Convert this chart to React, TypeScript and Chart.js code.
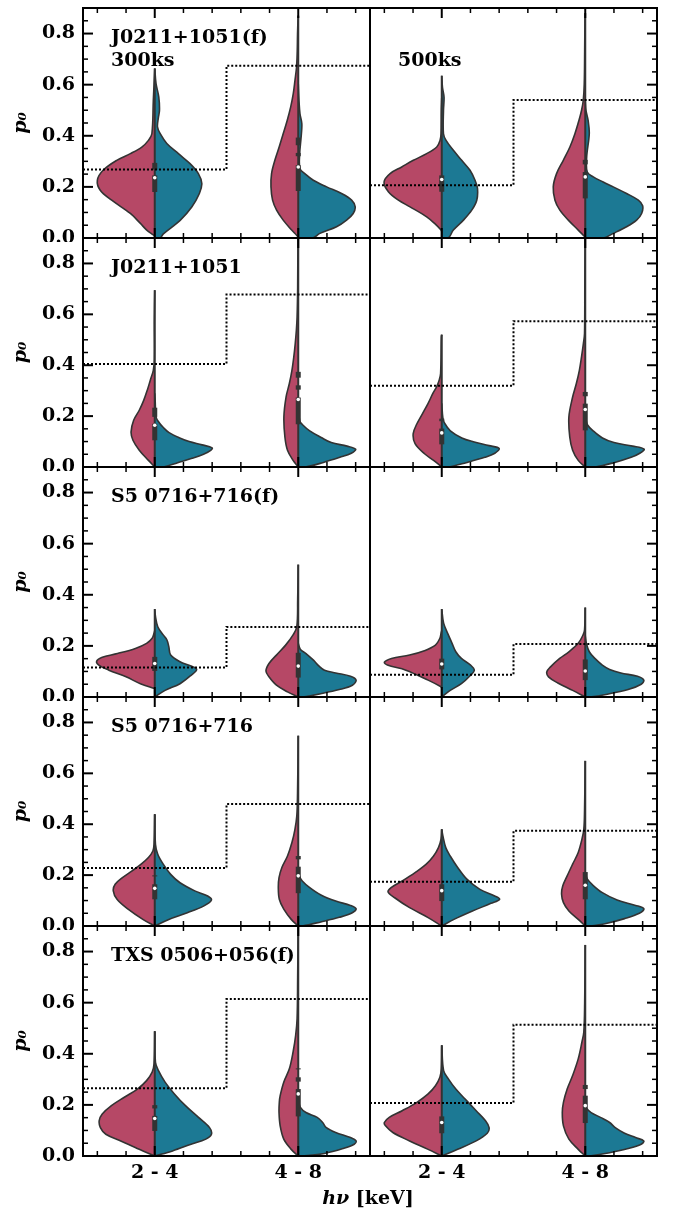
import { useEffect, useRef } from 'react';
import { Chart, registerables } from 'chart.js';

Chart.register(...registerables);

// ---------------- data ----------------
const categories = ['2 - 4', '4 - 8'];
const yTickValues = [0, 0.2, 0.4, 0.6, 0.8];
const yMinorTickValues = [0.05, 0.1, 0.15, 0.25, 0.3, 0.35, 0.45, 0.5, 0.55, 0.65, 0.7, 0.75, 0.85];
const xMajorTickValues = [0, 1];
const xMinorTickValues = [-0.4, -0.2, 0.2, 0.4, 0.6, 0.8, 1.2, 1.4];
const sourceLabels = ['J0211+1051(f)', 'J0211+1051', 'S5 0716+716(f)', 'S5 0716+716', 'TXS 0506+056(f)'];
const exposureLabels = ['300ks', '500ks'];
const yAxisTitle = 'p₀';
const xAxisTitleItalic = 'hν';
const xAxisTitleRest = ' [keV]';

// dotted threshold levels [2-4, 4-8]
const r1L_thr = [0.268, 0.674];
const r1R_thr = [0.206, 0.540];
const r2L_thr = [0.405, 0.678];
const r2R_thr = [0.319, 0.573];
const r3L_thr = [0.115, 0.274];
const r3R_thr = [0.087, 0.207];
const r4L_thr = [0.228, 0.479];
const r4R_thr = [0.174, 0.374];
const r5L_thr = [0.265, 0.614];
const r5R_thr = [0.207, 0.514];

// violin outlines: [p0 value, half width in category units]
const r1L_c0_red = [[0.008,0],[0.012,0.01],[0.031,0.056],[0.057,0.10],[0.096,0.17],[0.148,0.30],[0.187,0.38],[0.226,0.40],[0.265,0.36],[0.304,0.265],[0.330,0.17],[0.356,0.09],[0.382,0.044],[0.408,0.02],[0.538,0.01],[0.661,0]];
const r1L_c0_teal = [[0,0],[0,0.037],[0.016,0.06],[0.069,0.177],[0.121,0.258],[0.174,0.311],[0.213,0.328],[0.252,0.304],[0.291,0.246],[0.330,0.165],[0.370,0.084],[0.409,0.037],[0.435,0.019],[0.47,0.025],[0.500,0.033],[0.552,0.028],[0.604,0.009],[0.664,0]];
const r1L_c1_red = [[0.003,0],[0.01,0.01],[0.031,0.046],[0.070,0.105],[0.109,0.151],[0.148,0.179],[0.200,0.190],[0.252,0.186],[0.304,0.163],[0.356,0.133],[0.408,0.105],[0.460,0.077],[0.512,0.053],[0.564,0.035],[0.616,0.023],[0.668,0.012],[0.732,0.007],[0.797,0.005],[0.849,0.002],[0.87,0]];
const r1L_c1_teal = [[0,0],[0,0.10],[0.018,0.151],[0.044,0.267],[0.070,0.337],[0.096,0.383],[0.122,0.397],[0.148,0.372],[0.174,0.302],[0.200,0.198],[0.226,0.105],[0.252,0.046],[0.271,0.012],[0.330,0.01],[0.395,0.02],[0.447,0.025],[0.486,0.012],[0.538,0.005],[0.603,0]];
const r1L_c0_box = [[0.180,0.245],[0.268,0.294]];
const r1L_c1_box = [[0.184,0.285],[0.320,0.333],[0.363,0.393]];
const r1L_med = [0.236, 0.278];

const r1R_c0_red = [[0.025,0],[0.031,0.005],[0.057,0.05],[0.083,0.105],[0.122,0.221],[0.148,0.302],[0.181,0.372],[0.219,0.402],[0.252,0.360],[0.278,0.279],[0.304,0.198],[0.330,0.105],[0.356,0.035],[0.382,0.012],[0.408,0.005],[0.499,0.003],[0.55,0]];
const r1R_c0_teal = [[0,0],[0,0.046],[0.031,0.081],[0.070,0.151],[0.109,0.209],[0.148,0.244],[0.194,0.249],[0.226,0.232],[0.265,0.197],[0.304,0.139],[0.343,0.081],[0.382,0.030],[0.408,0.012],[0.499,0.012],[0.551,0.016],[0.590,0.005],[0.635,0]];
const r1R_c1_red = [[0.003,0],[0.031,0.049],[0.070,0.118],[0.109,0.177],[0.148,0.211],[0.200,0.223],[0.252,0.200],[0.304,0.153],[0.356,0.107],[0.408,0.072],[0.460,0.044],[0.499,0.026],[0.538,0.014],[0.603,0.007],[0.732,0.004],[0.849,0.002],[0.88,0]];
const r1R_c1_teal = [[0,0],[0,0.125],[0.018,0.195],[0.044,0.288],[0.070,0.358],[0.096,0.393],[0.126,0.400],[0.148,0.37],[0.174,0.288],[0.200,0.195],[0.219,0.125],[0.239,0.056],[0.258,0.014],[0.317,0.01],[0.408,0.028],[0.460,0.02],[0.499,0.005],[0.538,0]];
const r1R_c0_box = [[0.181,0.245]];
const r1R_c1_box = [[0.155,0.258],[0.288,0.306]];
const r1R_med = [0.229, 0.239];

const r2L_c0_red = [[0,0],[0.026,0.044],[0.066,0.108],[0.105,0.152],[0.138,0.165],[0.184,0.147],[0.223,0.108],[0.262,0.077],[0.302,0.052],[0.341,0.031],[0.380,0.010],[0.420,0.003],[0.577,0.003],[0.695,0]];
const r2L_c0_teal = [[0,0],[0,0.06],[0.017,0.16],[0.034,0.26],[0.05,0.34],[0.065,0.39],[0.075,0.40],[0.087,0.33],[0.1,0.24],[0.115,0.17],[0.135,0.10],[0.155,0.06],[0.175,0.03],[0.195,0.01],[0.26,0.003],[0.29,0]];
const r2L_c1_red = [[0,0],[0.026,0.036],[0.066,0.075],[0.118,0.093],[0.197,0.10],[0.275,0.085],[0.328,0.062],[0.380,0.044],[0.433,0.031],[0.485,0.021],[0.538,0.013],[0.590,0.008],[0.708,0.004],[0.905,0.002],[0.93,0]];
const r2L_c1_teal = [[0,0],[0,0.05],[0.017,0.17],[0.038,0.29],[0.054,0.37],[0.07,0.40],[0.082,0.34],[0.096,0.23],[0.116,0.16],[0.142,0.08],[0.166,0.03],[0.182,0.01],[0.25,0]];
const r2L_c0_box = [[0.105,0.170],[0.197,0.233]];
const r2L_c1_box = [[0.168,0.273],[0.304,0.321],[0.351,0.374]];
const r2L_med = [0.164, 0.265];

const r2R_c0_red = [[0,0],[0.026,0.057],[0.052,0.12],[0.092,0.186],[0.131,0.199],[0.170,0.173],[0.210,0.134],[0.249,0.096],[0.289,0.062],[0.315,0.036],[0.341,0.018],[0.367,0.008],[0.511,0.003],[0.52,0]];
const r2R_c0_teal = [[0,0],[0,0.05],[0.017,0.17],[0.038,0.30],[0.054,0.37],[0.073,0.40],[0.084,0.33],[0.099,0.22],[0.114,0.14],[0.142,0.06],[0.172,0.02],[0.192,0.008],[0.25,0]];
const r2R_c1_red = [[0,0],[0.026,0.049],[0.066,0.088],[0.118,0.108],[0.197,0.114],[0.275,0.088],[0.328,0.062],[0.380,0.041],[0.433,0.026],[0.485,0.013],[0.525,0.005],[0.708,0.003],[0.93,0]];
const r2R_c1_teal = [[0,0],[0,0.07],[0.017,0.2],[0.038,0.32],[0.054,0.38],[0.07,0.41],[0.082,0.33],[0.096,0.2],[0.114,0.12],[0.142,0.055],[0.166,0.015],[0.19,0.005],[0.25,0]];
const r2R_c0_box = [[0.089,0.151],[0.18,0.19]];
const r2R_c1_box = [[0.144,0.249],[0.278,0.295]];
const r2R_med = [0.134, 0.226];

const r3L_c0_red = [[0.033,0],[0.052,0.1],[0.079,0.2],[0.105,0.32],[0.125,0.39],[0.140,0.405],[0.155,0.37],[0.170,0.26],[0.190,0.135],[0.210,0.057],[0.230,0.018],[0.249,0.005],[0.26,0]];
const r3L_c0_teal = [[0,0],[0.026,0.072],[0.052,0.176],[0.085,0.253],[0.108,0.292],[0.121,0.253],[0.138,0.176],[0.164,0.111],[0.197,0.098],[0.223,0.085],[0.243,0.059],[0.275,0.021],[0.315,0.005],[0.344,0]];
const r3L_c1_red = [[0,0],[0.020,0.075],[0.046,0.152],[0.079,0.204],[0.102,0.225],[0.131,0.204],[0.164,0.152],[0.203,0.088],[0.243,0.036],[0.275,0.010],[0.380,0.004],[0.518,0]];
const r3L_c1_teal = [[0,0],[0,0.03],[0.013,0.157],[0.029,0.286],[0.046,0.377],[0.066,0.403],[0.081,0.364],[0.094,0.261],[0.105,0.183],[0.121,0.145],[0.144,0.106],[0.170,0.054],[0.186,0.015],[0.21,0]];
const r3L_c0_box = [[0.102,0.157]];
const r3L_c1_box = [[0.076,0.173]];
const r3L_med = [0.131, 0.121];

const r3R_c0_red = [[0.035,0],[0.04,0.005],[0.066,0.095],[0.105,0.25],[0.125,0.379],[0.136,0.40],[0.151,0.35],[0.164,0.224],[0.181,0.121],[0.203,0.044],[0.230,0.013],[0.249,0.005],[0.26,0]];
const r3R_c0_teal = [[0,0],[0.026,0.059],[0.052,0.137],[0.085,0.201],[0.105,0.227],[0.125,0.201],[0.151,0.137],[0.177,0.098],[0.210,0.072],[0.243,0.046],[0.289,0.013],[0.344,0]];
const r3R_c1_red = [[0,0],[0.026,0.088],[0.055,0.191],[0.079,0.256],[0.098,0.268],[0.118,0.242],[0.151,0.178],[0.177,0.114],[0.210,0.049],[0.243,0.015],[0.262,0.005],[0.35,0]];
const r3R_c1_teal = [[0,0],[0,0.03],[0.010,0.144],[0.029,0.299],[0.050,0.390],[0.066,0.408],[0.081,0.364],[0.094,0.248],[0.108,0.170],[0.125,0.119],[0.151,0.067],[0.177,0.028],[0.210,0.008],[0.24,0]];
const r3R_c0_box = [[0.108,0.150]];
const r3R_c1_box = [[0.066,0.147]];
const r3R_med = [0.129, 0.102];

const r4L_c0_red = [[0,0],[0.026,0.083],[0.066,0.186],[0.105,0.263],[0.138,0.289],[0.164,0.276],[0.190,0.225],[0.216,0.160],[0.243,0.095],[0.269,0.044],[0.295,0.013],[0.321,0.005],[0.439,0]];
const r4L_c0_teal = [[0,0],[0.026,0.098],[0.052,0.227],[0.079,0.343],[0.102,0.395],[0.118,0.369],[0.138,0.279],[0.170,0.176],[0.203,0.111],[0.243,0.059],[0.282,0.021],[0.321,0.005],[0.439,0]];
const r4L_c1_red = [[0,0],[0.026,0.049],[0.066,0.101],[0.105,0.132],[0.151,0.139],[0.190,0.134],[0.230,0.114],[0.275,0.075],[0.328,0.044],[0.380,0.023],[0.433,0.010],[0.52,0.005],[0.748,0]];
const r4L_c1_teal = [[0,0],[0,0.03],[0.016,0.157],[0.034,0.286],[0.052,0.377],[0.068,0.403],[0.081,0.364],[0.098,0.261],[0.122,0.158],[0.151,0.080],[0.177,0.028],[0.197,0.008],[0.23,0]];
const r4L_c0_box = [[0.105,0.164],[0.195,0.199]];
const r4L_c1_box = [[0.129,0.233],[0.262,0.275]];
const r4L_med = [0.148, 0.197];

const r4R_c0_red = [[0,0],[0.033,0.095],[0.072,0.224],[0.111,0.328],[0.134,0.374],[0.151,0.353],[0.177,0.276],[0.210,0.186],[0.243,0.108],[0.275,0.057],[0.308,0.023],[0.341,0.005],[0.38,0]];
const r4R_c0_teal = [[0,0],[0.026,0.085],[0.059,0.214],[0.089,0.343],[0.105,0.403],[0.118,0.369],[0.144,0.266],[0.184,0.175],[0.230,0.111],[0.275,0.059],[0.308,0.028],[0.354,0.008],[0.38,0]];
const r4R_c1_red = [[0,0],[0.026,0.049],[0.059,0.114],[0.092,0.152],[0.125,0.165],[0.157,0.157],[0.197,0.126],[0.243,0.088],[0.289,0.049],[0.341,0.023],[0.380,0.010],[0.45,0.005],[0.649,0]];
const r4R_c1_teal = [[0,0],[0,0.03],[0.010,0.145],[0.029,0.274],[0.050,0.377],[0.068,0.408],[0.081,0.351],[0.102,0.222],[0.131,0.119],[0.160,0.054],[0.184,0.015],[0.21,0]];
const r4R_c0_box = [[0.098,0.164]];
const r4R_c1_box = [[0.105,0.212]];
const r4R_med = [0.139, 0.160];

const r5L_c0_red = [[0,0],[0.026,0.108],[0.059,0.237],[0.085,0.341],[0.111,0.379],[0.138,0.387],[0.164,0.366],[0.197,0.302],[0.230,0.212],[0.262,0.121],[0.295,0.057],[0.328,0.018],[0.361,0.005],[0.488,0]];
const r5L_c0_teal = [[0,0],[0.020,0.124],[0.046,0.253],[0.066,0.356],[0.085,0.395],[0.111,0.382],[0.151,0.305],[0.197,0.214],[0.243,0.137],[0.289,0.072],[0.334,0.026],[0.367,0.005],[0.488,0]];
const r5L_c1_red = [[0,0],[0.026,0.049],[0.066,0.101],[0.118,0.126],[0.170,0.134],[0.210,0.132],[0.236,0.126],[0.289,0.101],[0.341,0.062],[0.407,0.036],[0.472,0.018],[0.538,0.008],[0.7,0.004],[0.93,0]];
const r5L_c1_teal = [[0,0],[0,0.03],[0.010,0.183],[0.029,0.312],[0.046,0.390],[0.059,0.403],[0.072,0.364],[0.092,0.261],[0.111,0.196],[0.131,0.170],[0.151,0.132],[0.170,0.054],[0.190,0.015],[0.22,0]];
const r5L_c0_box = [[0.098,0.157],[0.186,0.199]];
const r5L_c1_box = [[0.155,0.262],[0.291,0.308],[0.339,0.343]];
const r5L_med = [0.147, 0.243];

const r5R_c0_red = [[0,0],[0.026,0.095],[0.059,0.224],[0.092,0.341],[0.118,0.392],[0.131,0.40],[0.151,0.366],[0.177,0.276],[0.210,0.173],[0.243,0.095],[0.275,0.044],[0.308,0.013],[0.341,0.003],[0.433,0]];
const r5R_c0_teal = [[0,0],[0.026,0.111],[0.059,0.240],[0.089,0.317],[0.111,0.330],[0.138,0.305],[0.177,0.240],[0.223,0.163],[0.262,0.098],[0.302,0.046],[0.334,0.013],[0.433,0]];
const r5R_c1_red = [[0,0],[0.026,0.049],[0.066,0.114],[0.118,0.152],[0.170,0.160],[0.210,0.152],[0.262,0.126],[0.315,0.088],[0.380,0.049],[0.446,0.023],[0.485,0.010],[0.6,0.004],[0.826,0]];
const r5R_c1_teal = [[0,0],[0,0.03],[0.013,0.170],[0.029,0.299],[0.046,0.390],[0.059,0.408],[0.072,0.351],[0.089,0.274],[0.111,0.209],[0.131,0.170],[0.151,0.106],[0.170,0.041],[0.186,0.010],[0.21,0]];
const r5R_c0_box = [[0.089,0.155]];
const r5R_c1_box = [[0.129,0.236],[0.262,0.278]];
const r5R_med = [0.131, 0.197];

// ---------------- styling / layout ----------------
const RED = '#b64866';
const TEAL = '#1c7994';
const EDGE = '#333333';
const FONT = 'DejaVu Serif';
const ROW_TOPS = [8, 238, 467, 697, 926];
const ROW_BOTTOMS = [238, 467, 697, 926, 1156];

type Half = number[][];
interface ViolinCfg { red: Half; teal: Half; boxes: number[][]; median: number }
interface PanelCfg { thr: number[]; violins: ViolinCfg[]; title: string; sub: string }

function mk(thr: number[], c0r: Half, c0t: Half, c1r: Half, c1t: Half, b0: number[][], b1: number[][], med: number[], title: string, sub: string): PanelCfg {
  return {
    thr,
    violins: [
      { red: c0r, teal: c0t, boxes: b0, median: med[0] },
      { red: c1r, teal: c1t, boxes: b1, median: med[1] },
    ],
    title,
    sub,
  };
}

const panels: PanelCfg[][] = [
  [
    mk(r1L_thr, r1L_c0_red, r1L_c0_teal, r1L_c1_red, r1L_c1_teal, r1L_c0_box, r1L_c1_box, r1L_med, sourceLabels[0], exposureLabels[0]),
    mk(r1R_thr, r1R_c0_red, r1R_c0_teal, r1R_c1_red, r1R_c1_teal, r1R_c0_box, r1R_c1_box, r1R_med, '', exposureLabels[1]),
  ],
  [
    mk(r2L_thr, r2L_c0_red, r2L_c0_teal, r2L_c1_red, r2L_c1_teal, r2L_c0_box, r2L_c1_box, r2L_med, sourceLabels[1], ''),
    mk(r2R_thr, r2R_c0_red, r2R_c0_teal, r2R_c1_red, r2R_c1_teal, r2R_c0_box, r2R_c1_box, r2R_med, '', ''),
  ],
  [
    mk(r3L_thr, r3L_c0_red, r3L_c0_teal, r3L_c1_red, r3L_c1_teal, r3L_c0_box, r3L_c1_box, r3L_med, sourceLabels[2], ''),
    mk(r3R_thr, r3R_c0_red, r3R_c0_teal, r3R_c1_red, r3R_c1_teal, r3R_c0_box, r3R_c1_box, r3R_med, '', ''),
  ],
  [
    mk(r4L_thr, r4L_c0_red, r4L_c0_teal, r4L_c1_red, r4L_c1_teal, r4L_c0_box, r4L_c1_box, r4L_med, sourceLabels[3], ''),
    mk(r4R_thr, r4R_c0_red, r4R_c0_teal, r4R_c1_red, r4R_c1_teal, r4R_c0_box, r4R_c1_box, r4R_med, '', ''),
  ],
  [
    mk(r5L_thr, r5L_c0_red, r5L_c0_teal, r5L_c1_red, r5L_c1_teal, r5L_c0_box, r5L_c1_box, r5L_med, sourceLabels[4], ''),
    mk(r5R_thr, r5R_c0_red, r5R_c0_teal, r5R_c1_red, r5R_c1_teal, r5R_c0_box, r5R_c1_box, r5R_med, '', ''),
  ],
];

const decoPlugin = {
  id: 'panelDeco',
  afterDraw(chart: any, _args: any, opts: any) {
    const { ctx, chartArea: a, scales } = chart;
    const xs = scales.x;
    const ys = scales.y;
    ctx.save();
    ctx.strokeStyle = '#000';
    ctx.lineCap = 'butt';
    const seg = (x1: number, y1: number, x2: number, y2: number, w: number) => {
      ctx.lineWidth = w;
      ctx.beginPath();
      ctx.moveTo(x1, y1);
      ctx.lineTo(x2, y2);
      ctx.stroke();
    };
    const yTick = (v: number, len: number, w: number) => {
      const py = ys.getPixelForValue(v);
      if (opts.side === 'left') seg(a.left, py, a.left + len, py, w);
      else seg(a.right, py, a.right - len, py, w);
    };
    yTickValues.forEach((v) => yTick(v, 10, 2));
    yMinorTickValues.forEach((v) => yTick(v, 5, 1.5));
    const xTick = (v: number, len: number, w: number) => {
      const px = xs.getPixelForValue(v);
      seg(px, a.top, px, a.top + len, w);
      seg(px, a.bottom, px, a.bottom - len, w);
    };
    xMajorTickValues.forEach((v) => xTick(v, 10, 2));
    xMinorTickValues.forEach((v) => xTick(v, 5, 1.5));
    ctx.lineWidth = 2;
    ctx.strokeRect(a.left, a.top, a.right - a.left, a.bottom - a.top);

    ctx.fillStyle = '#000';
    ctx.textAlign = 'left';
    ctx.textBaseline = 'alphabetic';
    ctx.font = `bold 19px "${FONT}"`;
    if (opts.title) ctx.fillText(opts.title, a.left + 28, a.top + 35);
    if (opts.sub) ctx.fillText(opts.sub, a.left + 28, a.top + 58);
    if (opts.xTitle) {
      const italic = `italic bold 19px "${FONT}"`;
      const normal = `bold 19px "${FONT}"`;
      ctx.font = italic;
      const w1 = ctx.measureText(xAxisTitleItalic).width;
      ctx.font = normal;
      const w2 = ctx.measureText(xAxisTitleRest).width;
      const start = opts.xTitleCenter - (w1 + w2) / 2;
      ctx.font = italic;
      ctx.fillText(xAxisTitleItalic, start, opts.xTitleBaseline);
      ctx.font = normal;
      ctx.fillText(xAxisTitleRest, start + w1, opts.xTitleBaseline);
    }
    ctx.restore();
  },
};

function buildDatasets(cfg: PanelCfg) {
  const ds: any[] = [];
  ds.push({
    data: [
      { x: -0.5, y: cfg.thr[0] },
      { x: 0.5, y: cfg.thr[0] },
      { x: 0.5, y: cfg.thr[1] },
      { x: 1.5, y: cfg.thr[1] },
    ],
    borderColor: '#000',
    borderWidth: 2,
    borderDash: [2, 2],
    pointRadius: 0,
    fill: false,
    tension: 0,
    order: 0,
  });
  cfg.violins.forEach((v, c) => {
    ds.push({
      data: [{ x: c, y: v.median }],
      showLine: false,
      pointRadius: 1.8,
      pointBackgroundColor: '#ffffff',
      pointBorderWidth: 0,
      order: 1,
    });
    v.boxes.forEach((b) => {
      ds.push({
        data: [{ x: c, y: b[0] }, { x: c, y: b[1] }],
        borderColor: EDGE,
        borderWidth: 5,
        borderCapStyle: 'butt',
        pointRadius: 0,
        tension: 0,
        fill: false,
        order: 2,
      });
    });
    const top = Math.max(v.red[v.red.length - 1][0], v.teal[v.teal.length - 1][0]);
    ds.push({
      data: [{ x: c, y: 0 }, { x: c, y: top }],
      borderColor: EDGE,
      borderWidth: 2,
      pointRadius: 0,
      tension: 0,
      fill: false,
      order: 3,
    });
    ds.push({
      data: v.red.map(([y, w]) => ({ x: c - w, y })),
      fill: 'shape',
      backgroundColor: RED,
      borderColor: EDGE,
      borderWidth: 1.6,
      tension: 0.35,
      pointRadius: 0,
      order: 4,
    });
    ds.push({
      data: v.teal.map(([y, w]) => ({ x: c + w, y })),
      fill: 'shape',
      backgroundColor: TEAL,
      borderColor: EDGE,
      borderWidth: 1.6,
      tension: 0.35,
      pointRadius: 0,
      order: 4,
    });
  });
  return ds;
}

function Panel({ cfg, row, col }: { cfg: PanelCfg; row: number; col: number }) {
  const ref = useRef<HTMLCanvasElement>(null);
  const isLeft = col === 0;
  const isBottom = row === 4;
  const top = ROW_TOPS[row] - 4;
  const height = isBottom ? 1209 - top : ROW_BOTTOMS[row] - ROW_TOPS[row] + 8;
  const left = isLeft ? 0 : 366;
  const width = isLeft ? (isBottom ? 676 : 374) : 310;

  useEffect(() => {
    if (!ref.current) return;
    const tickFont = { family: FONT, size: 19, weight: 'bold' as const };
    const chart = new Chart(ref.current, {
      type: 'line',
      data: { datasets: buildDatasets(cfg) },
      plugins: [decoPlugin],
      options: {
        responsive: false,
        animation: false,
        devicePixelRatio: 1,
        events: [],
        layout: {
          autoPadding: false,
          padding: {
            left: isLeft ? 0 : 4,
            right: isLeft ? (isBottom ? 306 : 4) : 19,
            top: 4,
            bottom: isBottom ? 0 : 4,
          },
        },
        plugins: {
          legend: { display: false },
          tooltip: { enabled: false },
          panelDeco: {
            side: isLeft ? 'left' : 'right',
            title: cfg.title,
            sub: cfg.sub,
            xTitle: isBottom && isLeft,
            xTitleCenter: 368,
            xTitleBaseline: 1204 - top,
          },
        } as any,
        scales: {
          x: {
            type: 'linear',
            min: -0.5,
            max: 1.5,
            display: isBottom,
            afterBuildTicks: (s: any) => {
              s.ticks = xMajorTickValues.map((value) => ({ value }));
            },
            afterFit: (s: any) => {
              s.height = isBottom ? 53 : 0;
              s.paddingLeft = 0;
              s.paddingRight = 0;
            },
            grid: { display: false, drawTicks: false },
            border: { display: false },
            ticks: {
              autoSkip: false,
              maxRotation: 0,
              padding: 6,
              color: '#000',
              font: tickFont,
              callback: (v: any) => categories[Math.round(Number(v))],
            },
          },
          y: {
            type: 'linear',
            min: 0,
            max: 0.9,
            display: isLeft,
            afterBuildTicks: (s: any) => {
              s.ticks = yTickValues.map((value) => ({ value }));
            },
            afterFit: (s: any) => {
              s.width = isLeft ? 83 : 0;
              s.paddingTop = 0;
              s.paddingBottom = 0;
            },
            grid: { display: false, drawTicks: false },
            border: { display: false },
            ticks: {
              padding: 8,
              color: '#000',
              font: tickFont,
              callback: (v: any) => Number(v).toFixed(1),
            },
            title: {
              display: true,
              text: yAxisTitle,
              color: '#000',
              font: { family: FONT, size: 19, style: 'italic', weight: 'bold' },
              padding: { top: 10, bottom: 0 },
            },
          },
        },
      } as any,
    });
    return () => chart.destroy();
  }, []);

  return (
    <canvas
      ref={ref}
      width={width}
      height={height}
      style={{ position: 'absolute', left, top, width, height }}
    />
  );
}

export default function App() {
  return (
    <div style={{ position: 'absolute', left: 0, top: 0, width: 676, height: 1209, background: '#fff' }}>
      {panels.map((rowCfg, r) =>
        rowCfg.map((cfg, c) => <Panel key={`${r}-${c}`} cfg={cfg} row={r} col={c} />)
      )}
    </div>
  );
}
